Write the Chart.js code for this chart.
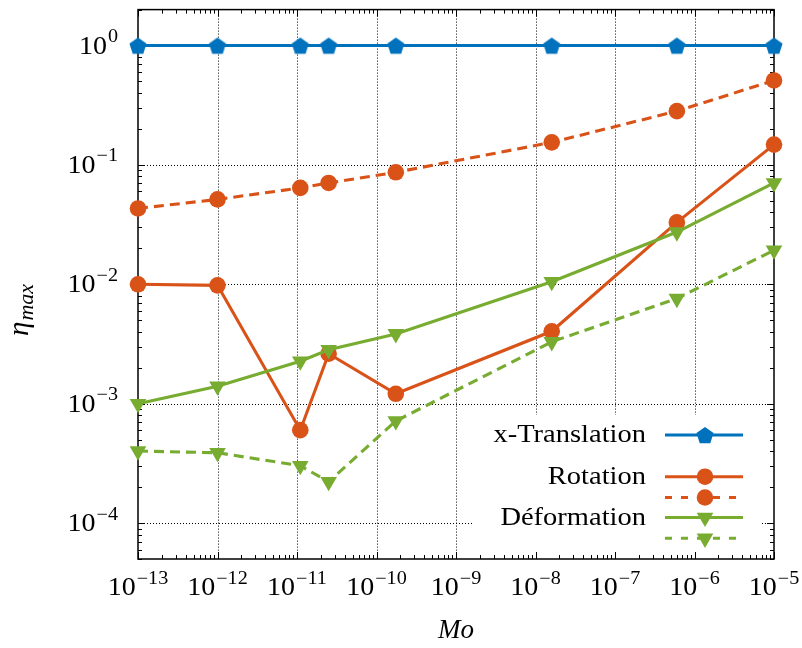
<!DOCTYPE html>
<html>
<head>
<meta charset="utf-8">
<script src="https://cdn.jsdelivr.net/npm/chart.js@4/dist/chart.umd.min.js"></script>
<style>
  html, body { margin: 0; padding: 0; background: #fff; }
  canvas { display: block; }
</style>
</head>
<body>
<canvas id="chart" width="802" height="648"></canvas>
<script>
// Mo values (x) shared by all series
const moValues = [1e-13, 1e-12, 1.1e-11, 2.5e-11, 1.75e-10, 1.6e-8, 6e-7, 1e-5];

// eta_max values
const translation = [1, 1, 1, 1, 1, 1, 1, 1];
const rotationSolid = [0.0100, 0.0098, 0.00060, 0.00262, 0.00121, 0.00404, 0.033, 0.148];
const rotationDashed = [0.0432, 0.0514, 0.0642, 0.0706, 0.0867, 0.1545, 0.282, 0.51];
const deformationSolid = [0.00100, 0.00140, 0.00227, 0.00283, 0.00384, 0.0105, 0.0274, 0.0706];
const deformationDashed = [0.000401, 0.000388, 0.000302, 0.000222, 0.000716, 0.0033, 0.0076, 0.0193];

// axis decades
const xExponents = [-13, -12, -11, -10, -9, -8, -7, -6, -5];
const yExponents = [-4, -3, -2, -1, 0];

const blue = '#0072BD';
const orange = '#D95319';
const green = '#77AC30';
const serif = '"Liberation Serif", "DejaVu Serif", serif';
const lineW = 3.1;
const circleR = 8.3;
const triR = 9.6;
const stretch = 1.12; // the original face is wider than Liberation Serif

function makePentagon(r, color) {
    const size = Math.ceil(r * 2 + 2);
    const c = document.createElement('canvas');
    c.width = size;
    c.height = size;
    const g = c.getContext('2d');
    g.fillStyle = color;
    g.beginPath();
    for (let i = 0; i < 5; i++) {
        const a = -Math.PI / 2 + i * 2 * Math.PI / 5;
        const px = size / 2 + r * Math.cos(a);
        const py = size / 2 + r * Math.sin(a) + r * 0.1;
        if (i === 0) g.moveTo(px, py); else g.lineTo(px, py);
    }
    g.closePath();
    g.fill();
    return c;
}
const pentagon = makePentagon(9, blue);

function toPoints(ys) {
    return moValues.map((x, i) => ({ x: x, y: ys[i] }));
}

function series(label, ys, color, style, dashed, order) {
    return {
        label: label,
        data: toPoints(ys),
        borderColor: color,
        backgroundColor: color,
        borderWidth: lineW,
        borderDash: dashed ? [10, 6] : [],
        pointStyle: style,
        pointRadius: style === 'triangle' ? triR : circleR,
        pointRotation: style === 'triangle' ? 180 : 0,
        pointBorderWidth: 0,
        pointBackgroundColor: color,
        tension: 0,
        clip: false,
        order: order
    };
}

function drawPow(ctx, exp, x, baseline, align) {
    const expStr = exp < 0 ? '\u2212' + Math.abs(exp) : String(exp);
    ctx.font = '25px ' + serif;
    const wBase = ctx.measureText('10').width * stretch;
    ctx.font = '18px ' + serif;
    const wExp = ctx.measureText(expStr).width * stretch;
    const total = wBase + wExp + 1;
    const start = align === 'center' ? x - total / 2 : x - total;
    ctx.save();
    ctx.textAlign = 'left';
    ctx.textBaseline = 'alphabetic';
    ctx.fillStyle = '#000';
    ctx.translate(start, baseline);
    ctx.scale(stretch, 1);
    ctx.font = '25px ' + serif;
    ctx.fillText('10', 0, 0);
    ctx.font = '18px ' + serif;
    ctx.fillText(expStr, (wBase + 1) / stretch, -11.5);
    ctx.restore();
}

function drawMarker(ctx, style, color, x, y) {
    ctx.fillStyle = color;
    ctx.beginPath();
    if (style === 'circle') {
        ctx.arc(x, y, circleR, 0, Math.PI * 2);
    } else if (style === 'triangle') {
        ctx.moveTo(x, y + triR);
        ctx.lineTo(x - triR * Math.sin(Math.PI / 3), y - triR / 2);
        ctx.lineTo(x + triR * Math.sin(Math.PI / 3), y - triR / 2);
        ctx.closePath();
    } else {
        ctx.drawImage(pentagon, x - pentagon.width / 2, y - pentagon.height / 2);
        return;
    }
    ctx.fill();
}

const legendBox = { left: 472, top: 415, right: 762, bottom: 556 };

const axesPlugin = {
    id: 'axesPlugin',
    beforeDatasetsDraw(chart) {
        const ctx = chart.ctx;
        const area = chart.chartArea;
        const xs = chart.scales.x;
        const ys = chart.scales.y;
        ctx.save();

        // dotted grid at decades
        ctx.strokeStyle = '#000';
        ctx.lineWidth = 1;
        ctx.setLineDash([1, 2]);
        xExponents.slice(1, -1).forEach(e => {
            const px = Math.round(xs.getPixelForValue(Math.pow(10, e))) + 0.5;
            ctx.beginPath();
            ctx.moveTo(px, area.top);
            ctx.lineTo(px, area.bottom);
            ctx.stroke();
        });
        yExponents.forEach(e => {
            const py = Math.round(ys.getPixelForValue(Math.pow(10, e))) + 0.5;
            ctx.beginPath();
            ctx.moveTo(area.left, py);
            ctx.lineTo(area.right, py);
            ctx.stroke();
        });
        ctx.setLineDash([]);

        // legend background hides the grid
        ctx.fillStyle = '#fff';
        ctx.fillRect(legendBox.left, legendBox.top,
            legendBox.right - legendBox.left, legendBox.bottom - legendBox.top);

        // inward ticks on all four sides
        ctx.strokeStyle = '#000';
        ctx.lineWidth = 1;
        const tick = (px, len, vertical) => {
            ctx.beginPath();
            if (vertical) {
                ctx.moveTo(px, area.bottom);
                ctx.lineTo(px, area.bottom - len);
                ctx.moveTo(px, area.top);
                ctx.lineTo(px, area.top + len);
            } else {
                ctx.moveTo(area.left, px);
                ctx.lineTo(area.left + len, px);
                ctx.moveTo(area.right, px);
                ctx.lineTo(area.right - len, px);
            }
            ctx.stroke();
        };
        xExponents.forEach(e => {
            tick(Math.round(xs.getPixelForValue(Math.pow(10, e))) + 0.5, 7, true);
            if (e < xExponents[xExponents.length - 1]) {
                for (let m = 2; m <= 9; m++) {
                    tick(Math.round(xs.getPixelForValue(m * Math.pow(10, e))) + 0.5, 4, true);
                }
            }
        });
        [-5].concat(yExponents).forEach(e => {
            if (e >= yExponents[0]) {
                tick(Math.round(ys.getPixelForValue(Math.pow(10, e))) + 0.5, 7, false);
            }
            for (let m = 2; m <= 9; m++) {
                const v = m * Math.pow(10, e);
                if (v >= ys.min && v <= ys.max) {
                    tick(Math.round(ys.getPixelForValue(v)) + 0.5, 4, false);
                }
            }
        });

        // frame
        ctx.lineWidth = 1.5;
        ctx.strokeRect(area.left, area.top, area.right - area.left, area.bottom - area.top);
        ctx.restore();
    },
    afterDatasetsDraw(chart) {
        const ctx = chart.ctx;
        const area = chart.chartArea;
        const xs = chart.scales.x;
        const ys = chart.scales.y;
        ctx.save();

        // tick labels
        xExponents.forEach(e => {
            drawPow(ctx, e, xs.getPixelForValue(Math.pow(10, e)), 595, 'center');
        });
        yExponents.forEach(e => {
            drawPow(ctx, e, 118, ys.getPixelForValue(Math.pow(10, e)) + 8, 'right');
        });

        // axis titles
        ctx.fillStyle = '#000';
        ctx.textBaseline = 'alphabetic';
        ctx.textAlign = 'center';
        ctx.font = 'italic 27px ' + serif;
        ctx.fillText('Mo', (area.left + area.right) / 2, 638);

        ctx.save();
        ctx.translate(28, 336);
        ctx.rotate(-Math.PI / 2);
        ctx.textAlign = 'left';
        ctx.font = 'italic 29px ' + serif;
        ctx.fillText('\u03b7', 0, 0);
        const wEta = ctx.measureText('\u03b7').width;
        ctx.font = 'italic 22px ' + serif;
        ctx.fillText('max', wEta + 1, 5);
        ctx.restore();

        // legend
        const labelRight = 646, lineLeft = 665, lineRight = 743, markX = 705;
        const rows = [
            { text: 'x-Translation', y: 435, color: blue, style: 'pentagon', dashed: false },
            { text: 'Rotation', y: 476.7, color: orange, style: 'circle', dashed: false },
            { text: '', y: 497.5, color: orange, style: 'circle', dashed: true },
            { text: 'D\u00e9formation', y: 517.5, color: green, style: 'triangle', dashed: false },
            { text: '', y: 538.3, color: green, style: 'triangle', dashed: true }
        ];
        rows.forEach(r => {
            if (r.text) {
                ctx.save();
                ctx.fillStyle = '#000';
                ctx.font = '25px ' + serif;
                ctx.textAlign = 'right';
                ctx.translate(labelRight, r.y + 7);
                ctx.scale(1.14, 1);
                ctx.fillText(r.text, 0, 0);
                ctx.restore();
            }
            ctx.strokeStyle = r.color;
            ctx.lineWidth = lineW;
            ctx.setLineDash(r.dashed ? [7, 9] : []);
            ctx.beginPath();
            ctx.moveTo(lineLeft, r.y);
            ctx.lineTo(lineRight, r.y);
            ctx.stroke();
            ctx.setLineDash([]);
            drawMarker(ctx, r.style, r.color, markX, r.y);
        });
        ctx.restore();
    }
};

new Chart(document.getElementById('chart').getContext('2d'), {
    type: 'line',
    data: {
        datasets: [
            series('x-Translation', translation, blue, pentagon, false, 5),
            series('Rotation', rotationSolid, orange, 'circle', false, 4),
            series('Rotation (dashed)', rotationDashed, orange, 'circle', true, 3),
            series('D\u00e9formation', deformationSolid, green, 'triangle', false, 2),
            series('D\u00e9formation (dashed)', deformationDashed, green, 'triangle', true, 1)
        ]
    },
    options: {
        responsive: false,
        animation: false,
        devicePixelRatio: 1,
        layout: { padding: { left: 138, top: 8, right: 28, bottom: 89 } },
        scales: {
            x: { type: 'logarithmic', min: 1e-13, max: 1e-5, display: false },
            y: { type: 'logarithmic', min: 5e-5, max: 2, display: false }
        },
        plugins: {
            legend: { display: false },
            tooltip: { enabled: false }
        }
    },
    plugins: [axesPlugin]
});
</script>
</body>
</html>
